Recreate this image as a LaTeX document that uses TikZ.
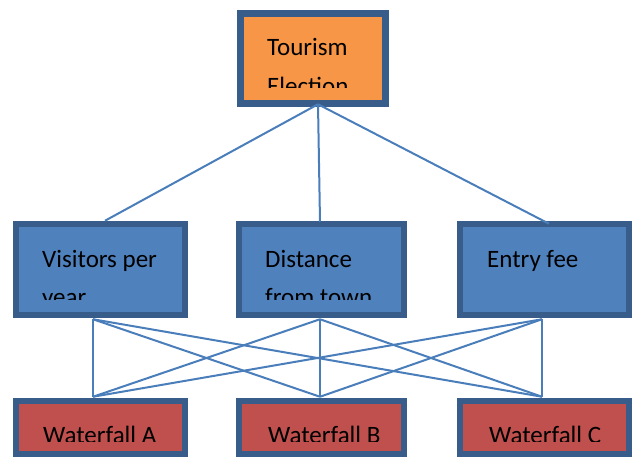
\documentclass[tikz,border=0pt]{standalone}
\usepackage{fontspec}
\setmainfont{Carlito}
\usepackage{tikz}

\definecolor{boxline}{HTML}{385D8A}
\definecolor{linkblue}{HTML}{4A7EBB}
\definecolor{goalfill}{HTML}{F79646}
\definecolor{critfill}{HTML}{4F81BD}
\definecolor{altfill}{HTML}{C0504D}

\begin{document}
\begin{tikzpicture}[x=1pt,y=-1pt,
    box/.style={draw=boxline, line width=6.5pt, minimum width=169pt,
                minimum height=91pt, inner sep=0pt},
    link/.style={draw=linkblue, line width=2pt},
    txt/.style={anchor=base west, inner sep=0pt, align=left,
                font=\fontsize{25}{38.5}\selectfont}]
        % ---- page size ----------------------------------
        \clip (0,0) rectangle (640,457);

        % ---- boxes --------------------------------------
        \node[box, fill=goalfill, minimum width=145pt, minimum height=90pt] (goal) at (313,58.5) {};
        \node[box, fill=critfill] (visit) at (100.5,269.5) {};
        \node[box, fill=critfill, minimum width=165pt] (dist) at (321.5,269.5) {};
        \node[box, fill=critfill] (fee) at (544.5,269.5) {};
        \node[box, fill=altfill, minimum height=53pt] (wfa) at (100.5,427.5) {};
        \node[box, fill=altfill, minimum height=53pt, minimum width=165pt] (wfb) at (321.5,427.5) {};
        \node[box, fill=altfill, minimum height=53pt] (wfc) at (544.5,427.5) {};

        % ---- texts, cut off at the frame ----------------
        \begin{scope}
          \clip (244,17) rectangle (383,88);
          \node[txt] (goaltxt) at (267,94.2) {Tourism\\Election};
        \end{scope}
        \begin{scope}
          \clip (20,228) rectangle (183,299.5);
          \node[txt] (visittxt) at (42,305.5) {Visitors per\\year};
        \end{scope}
        \begin{scope}
          \clip (242,228) rectangle (402,299.5);
          \node[txt] (disttxt) at (265,305.5) {Distance\\from town};
        \end{scope}
        \node[txt] (feetxt) at (487,267) {Entry fee};
        \begin{scope}
          \clip (17,405) rectangle (630,441.7);
          \node[txt] (wfatxt) at (43,443.7) {Waterfall A};
          \node[txt] (wfbtxt) at (268,443.7) {Waterfall B};
          \node[txt] (wfctxt) at (489,443.7) {Waterfall C};
        \end{scope}

        % ---- connectors ---------------------------------
        \draw[link] ([xshift=5pt,yshift=2.5pt]goal.south) -- ([xshift=4.5pt]visit.north);
        \draw[link] ([xshift=5pt,yshift=2.5pt]goal.south) -- ([xshift=-1.5pt,yshift=-1pt]dist.north);
        \draw[link] ([xshift=5pt,yshift=2.5pt]goal.south) -- ([xshift=4.5pt,yshift=-3pt]fee.north);
        \foreach \c/\dx in {visit/-7.5pt, dist/-1.5pt, fee/-2.5pt}
          \foreach \a/\ax in {wfa/-7.5pt, wfb/-1.5pt, wfc/-2.5pt}
            \draw[link] ([xshift=\dx,yshift=-1pt]\c.south) -- ([xshift=\ax,yshift=1pt]\a.north);
    \end{tikzpicture}
\end{document}
